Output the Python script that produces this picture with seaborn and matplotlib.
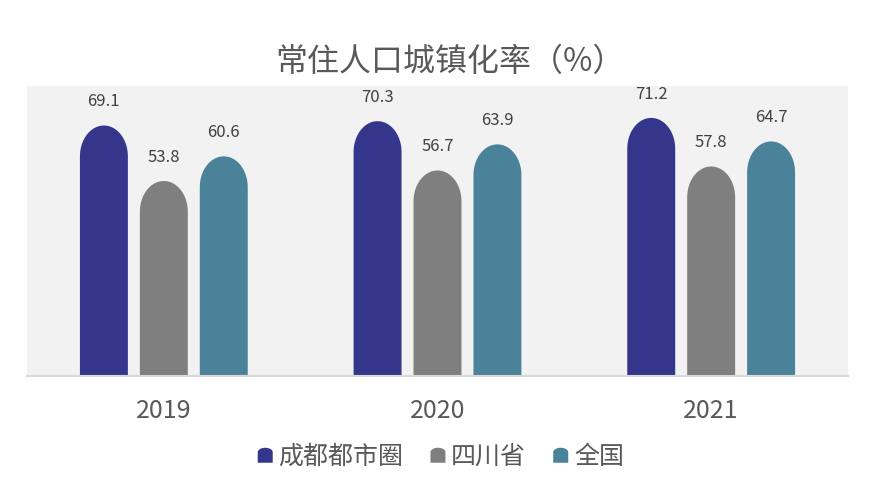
import numpy as np
import pandas as pd
import matplotlib
matplotlib.use('Agg')
import matplotlib.pyplot as plt
from matplotlib.path import Path
from matplotlib.patches import PathPatch, Patch
from matplotlib.legend_handler import HandlerPatch
import seaborn as sns

years = ['2019', '2020', '2021']
series = ['成都都市圈', '四川省', '全国']
chengdu = [69.1, 70.3, 71.2]
sichuan = [53.8, 56.7, 57.8]
national = [60.6, 63.9, 64.7]
colors = ['#34368B', '#7F7F7F', '#4A8299']

sns.set_theme(style='white')
plt.rcParams['font.family'] = ['Noto Sans CJK SC', 'DejaVu Sans']

df = pd.DataFrame({
    'year': years * 3,
    'series': [s for s in series for _ in years],
    'value': chengdu + sichuan + national,
})


def rounded_top(x0, x1, h, ry):
    # rectangle with a half-ellipse on top
    rx = (x1 - x0) / 2
    cx = x0 + rx
    t = np.linspace(np.pi, 0, 40)
    arc = np.column_stack([cx + rx * np.cos(t), h - ry + ry * np.sin(t)])
    verts = np.vstack([[x0, 0], [x0, h - ry], arc, [x1, 0], [x0, 0]])
    codes = [Path.MOVETO] + [Path.LINETO] * (len(verts) - 2) + [Path.CLOSEPOLY]
    return Path(verts, codes)


fig = plt.figure(figsize=(8.73, 4.92), dpi=100)
ax = fig.add_axes([27 / 873, 116 / 492, 821 / 873, 290 / 492])
ax.set_facecolor('#F2F2F2')

sns.barplot(data=df, x='year', y='value', hue='series', palette=colors,
            saturation=1, width=0.657, gap=0.2, legend=False, ax=ax)

bars = list(ax.patches)
for p in bars:
    x0 = p.get_x()
    x1 = x0 + p.get_width()
    h = p.get_height()
    fc = p.get_facecolor()
    p.remove()
    ax.add_patch(PathPatch(rounded_top(x0, x1, h, 8.5), facecolor=fc,
                           edgecolor='none'))
    ax.annotate(f'{h:.1f}', (x0 + (x1 - x0) / 2, h), xytext=(0, 17),
                textcoords='offset points', ha='center', va='center',
                fontsize=12, color='#404040')

ax.set_xlim(-0.5, 2.5)
ax.set_ylim(0, 80)
ax.set_yticks([])
ax.set_xlabel('')
ax.set_ylabel('')
for s in ['top', 'left', 'right']:
    ax.spines[s].set_visible(False)
ax.spines['bottom'].set_color('#D9D9D9')
ax.spines['bottom'].set_linewidth(1.5)
ax.tick_params(axis='x', length=0, pad=16, labelsize=18, labelcolor='#595959')

fig.suptitle('常住人口城镇化率（%）', x=0.515, y=1 - 62 / 492, va='center',
             fontsize=23, color='#595959')


def legend_shape(legend, orig_handle, xdescent, ydescent, width, height, fontsize):
    s = 10.8
    x0 = width - s
    y0 = -ydescent + (height - s) / 2
    r = s / 2
    ry = s * 0.3
    t = np.linspace(np.pi, 0, 20)
    arc = np.column_stack([x0 + r + r * np.cos(t), y0 + s - ry + ry * np.sin(t)])
    verts = np.vstack([[x0, y0], [x0, y0 + s - ry], arc, [x0 + s, y0], [x0, y0]])
    codes = [Path.MOVETO] + [Path.LINETO] * (len(verts) - 2) + [Path.CLOSEPOLY]
    return PathPatch(Path(verts, codes))


handles = [Patch(facecolor=c, edgecolor='none') for c in colors]
fig.legend(handles, series, loc='center', bbox_to_anchor=(0.505, 1 - 457 / 492),
           ncol=3, frameon=False, fontsize=18, labelcolor='#595959',
           handlelength=0.6, handletextpad=0.23, columnspacing=1.08,
           handler_map={Patch: HandlerPatch(patch_func=legend_shape)})

fig.savefig('out.png', dpi=100)
